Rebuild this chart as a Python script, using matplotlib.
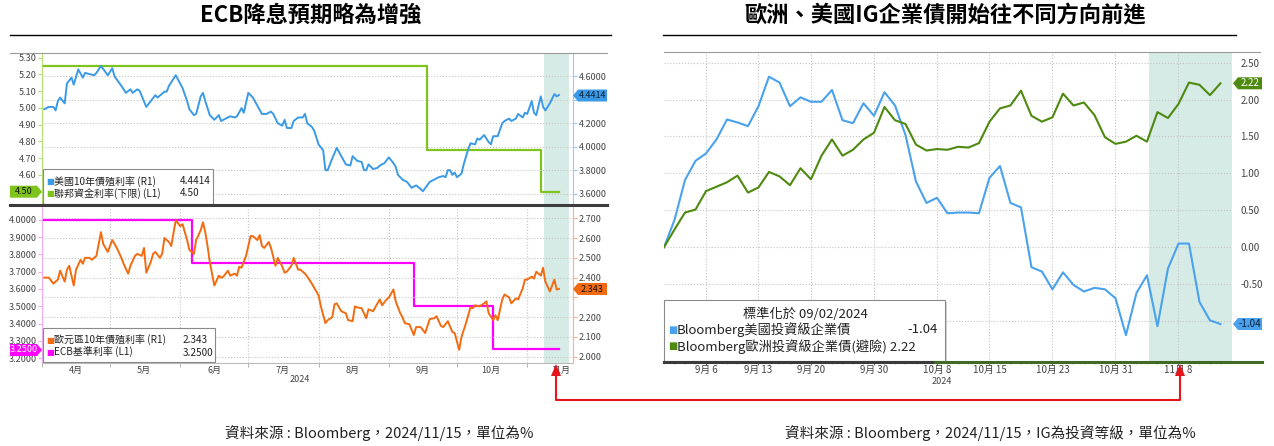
import numpy as np
import pandas as pd
import matplotlib
matplotlib.use('Agg')
import matplotlib.pyplot as plt
import matplotlib.ticker as mticker
from matplotlib.lines import Line2D
from matplotlib.patches import Rectangle, Polygon

plt.rcParams['font.family'] = ['Noto Sans CJK TC', 'DejaVu Sans']

# ---------------- left chart (days counted from 2024-04-02) ----------------
start_left = pd.Timestamp('2024-04-02')

us10y_day = [0, 2, 4, 5, 6, 7, 9, 10, 12, 13,
             15, 17, 18, 22, 23, 25, 28, 30, 31, 34,
             36, 38, 39, 41, 42, 45, 47, 49, 50, 53,
             54, 55, 58,
             61, 63, 64, 66, 67, 69, 70, 71, 73, 75,
             77, 78, 80, 82, 84, 85, 87, 88, 90, 92,
             94, 96, 98, 100, 101, 103, 105, 106, 107, 109,
             110, 112, 114, 115, 116, 118, 119,
             121, 123, 124, 125, 127, 129, 131, 133, 135, 136,
             138, 140, 141, 142, 143, 145, 147, 148, 150, 152,
             154, 155, 156, 158, 160, 162, 164, 166, 167, 170,
             172, 174, 176, 177, 178, 179, 180, 181, 182, 184,
             185, 187, 188, 190, 191, 192, 194, 195, 196, 197,
             198, 200, 202, 203, 205, 206, 208, 209, 211, 212,
             213, 215, 216, 217, 219, 220, 221, 223, 225, 226, 227]
us10y = [4.32, 4.34, 4.34, 4.31, 4.39, 4.42, 4.37, 4.54, 4.59, 4.53,
         4.66, 4.59, 4.63, 4.61, 4.63, 4.69, 4.61, 4.67, 4.60, 4.52,
         4.46, 4.49, 4.46, 4.49, 4.48, 4.34, 4.39, 4.44, 4.42, 4.47,
         4.47, 4.52, 4.61,
         4.50, 4.39, 4.32, 4.27, 4.28, 4.43, 4.46, 4.39, 4.27, 4.23,
         4.27, 4.22, 4.24, 4.26, 4.25, 4.26, 4.33, 4.29, 4.46, 4.42,
         4.35, 4.28, 4.28, 4.30, 4.28, 4.20, 4.18, 4.23, 4.16, 4.16,
         4.22, 4.25, 4.25, 4.28, 4.20, 4.17, 4.14,
         4.02, 3.97, 3.80, 3.80, 3.90, 3.99, 3.92, 3.85, 3.84, 3.92,
         3.88, 3.87, 3.80, 3.80, 3.85, 3.81, 3.82, 3.84, 3.86, 3.91,
         3.86, 3.83, 3.76, 3.72, 3.70, 3.65, 3.67, 3.64, 3.62, 3.70,
         3.72, 3.74, 3.75, 3.74, 3.80, 3.80, 3.76, 3.78, 3.74, 3.77,
         3.85, 3.98, 4.03, 4.02, 4.07, 4.06, 4.10, 4.07, 4.04, 4.02,
         4.09, 4.09, 4.20, 4.22, 4.24, 4.22, 4.24, 4.28, 4.25, 4.29,
         4.28, 4.39, 4.29, 4.27, 4.43, 4.34, 4.31, 4.37, 4.45, 4.43, 4.4414]

fed_day = [0, 169, 219, 227]
fed_rate = [5.25, 4.75, 4.50, 4.50]

eur_day = [0, 2, 4, 6, 7, 9, 10, 11, 13, 14,
           16, 17, 18, 20, 21, 23, 25, 26, 28, 30,
           32, 34, 35, 37, 38, 40, 41, 43, 44, 45,
           47, 48, 49, 51, 52, 53, 55, 56, 58, 60,
           61, 63, 64, 66, 67, 69, 70, 71, 72, 73,
           75, 77, 78, 79, 81, 82, 84, 85, 86, 87,
           89, 91, 92, 94, 95, 96, 97, 99, 100, 102,
           103, 105, 106, 107, 109, 110, 112, 113, 115, 116,
           118, 119, 121, 122, 124, 125, 127, 128, 129, 131,
           133, 134, 136, 137, 138, 140, 142, 143, 145, 146,
           148, 149, 151, 152, 154, 155, 157, 158, 159, 161,
           163, 164, 166, 168, 170, 172, 173, 175, 176, 178,
           180, 181, 183, 184, 186, 188, 189, 190, 192, 194,
           195, 196, 198, 199, 200, 202, 203, 205, 206, 208,
           209, 211, 212, 213, 215, 216, 217, 219, 220, 221,
           223, 224, 225, 226, 227]
eur10y = [2.40, 2.40, 2.37, 2.39, 2.435, 2.38, 2.44, 2.46, 2.36, 2.44,
          2.49, 2.47, 2.50, 2.50, 2.49, 2.51, 2.63, 2.57, 2.53, 2.59,
          2.55, 2.50, 2.47, 2.42, 2.46, 2.51, 2.52, 2.51, 2.55, 2.425,
          2.48, 2.52, 2.53, 2.50, 2.52, 2.60, 2.58, 2.56, 2.69, 2.66,
          2.67, 2.59, 2.54, 2.52, 2.59, 2.64, 2.68, 2.63, 2.56, 2.48,
          2.36, 2.41, 2.40, 2.405, 2.435, 2.41, 2.42, 2.41, 2.455, 2.45,
          2.51, 2.61, 2.61, 2.59, 2.615, 2.56, 2.55, 2.58, 2.55, 2.46,
          2.50, 2.455, 2.425, 2.43, 2.46, 2.50, 2.44, 2.44, 2.42, 2.405,
          2.37, 2.35, 2.31, 2.255, 2.17, 2.185, 2.20, 2.265, 2.27, 2.23,
          2.22, 2.185, 2.18, 2.255, 2.25, 2.245, 2.195, 2.24, 2.23, 2.25,
          2.29, 2.26, 2.29, 2.30, 2.34, 2.28, 2.22, 2.20, 2.17, 2.165,
          2.11, 2.15, 2.15, 2.12, 2.19, 2.195, 2.205, 2.155, 2.15, 2.18,
          2.125, 2.12, 2.035, 2.10, 2.17, 2.25, 2.245, 2.26, 2.255, 2.27,
          2.28, 2.22, 2.185, 2.21, 2.185, 2.29, 2.315, 2.30, 2.27, 2.295,
          2.29, 2.345, 2.39, 2.39, 2.405, 2.395, 2.43, 2.41, 2.45, 2.38,
          2.33, 2.36, 2.39, 2.34, 2.343]

ecb_day = [0, 65, 163, 198, 227]
ecb_rate = [4.00, 3.75, 3.50, 3.25, 3.25]

# ---------------- right chart (business days from 2024-09-02, normalised) ----------------
bdays = pd.bdate_range('2024-09-02', '2024-11-14')
us_ig = [0.00, 0.37, 0.91, 1.17, 1.27, 1.46, 1.73, 1.69, 1.64, 1.91,
         2.31, 2.23, 1.91, 2.03, 1.97, 1.97, 2.13, 1.72, 1.68, 1.95,
         1.78, 2.10, 1.92, 1.52, 0.89, 0.60, 0.67, 0.46, 0.47, 0.47,
         0.46, 0.94, 1.10, 0.60, 0.54, -0.27, -0.33, -0.57, -0.34, -0.51,
         -0.60, -0.55, -0.57, -0.69, -1.19, -0.62, -0.38, -1.07, -0.29, 0.05,
         0.05, -0.74, -0.99, -1.04]
eu_ig = [0.00, 0.24, 0.47, 0.51, 0.76, 0.82, 0.88, 0.97, 0.74, 0.81,
         1.02, 0.96, 0.84, 1.07, 0.92, 1.24, 1.46, 1.24, 1.32, 1.46,
         1.55, 1.90, 1.72, 1.67, 1.39, 1.31, 1.33, 1.32, 1.36, 1.35,
         1.41, 1.70, 1.88, 1.92, 2.12, 1.78, 1.70, 1.76, 2.08, 1.92,
         1.96, 1.79, 1.49, 1.40, 1.43, 1.51, 1.43, 1.83, 1.75, 1.94,
         2.23, 2.20, 2.06, 2.22]
right_ticks = ['2024-09-06', '2024-09-13', '2024-09-20', '2024-09-30', '2024-10-08',
               '2024-10-15', '2024-10-23', '2024-10-31', '2024-11-08']

assert len(us10y_day) == len(us10y)
assert len(eur_day) == len(eur10y)
assert len(bdays) == len(us_ig) == len(eu_ig)

BLUE = '#3b9ae6'
GREEN = '#7fc41c'
ORANGE = '#f26b10'
MAGENTA = '#ff00ff'
R_BLUE = '#4aa2ee'
R_GREEN = '#4f8a10'
SHADE = '#d6ebe5'
GRID = '#c4c4c4'
LBL = '#444444'

W, H = 1274, 446
fig = plt.figure(figsize=(W / 100, H / 100), dpi=100)


def rect(x0, y0, x1, y1):
    return [x0 / W, 1 - y1 / H, (x1 - x0) / W, (y1 - y0) / H]


def fx(x):
    return x / W


def fy(y):
    return 1 - y / H


def fline(xs, ys, **kw):
    fig.add_artist(Line2D([fx(_) for _ in xs], [fy(_) for _ in ys], **kw))


def tag(x0, x1, yc, txt, fc, tc, point='left', size=6.5):
    # value flag sitting on an axis
    h, n = 12, 5
    if point == 'left':
        pts = [(x0, yc), (x0 + n, yc - h / 2), (x1, yc - h / 2), (x1, yc + h / 2), (x0 + n, yc + h / 2)]
        xc = (x0 + n + x1) / 2
    else:
        pts = [(x1, yc), (x1 - n, yc - h / 2), (x0, yc - h / 2), (x0, yc + h / 2), (x1 - n, yc + h / 2)]
        xc = (x0 + x1 - n) / 2
    fig.add_artist(Polygon([(fx(a), fy(b)) for a, b in pts], closed=True, fc=fc, ec='none'))
    fig.text(fx(xc), fy(yc), txt, ha='center', va='center', fontsize=size, color=tc, zorder=5)


def box(x0, y0, x1, y1, shadow=False):
    if shadow:
        fig.add_artist(Rectangle((fx(x0 + 2), fy(y1 + 2)), (x1 - x0) / W, (y1 - y0) / H,
                                 fc='#d0d0d0', ec='none'))
    fig.add_artist(Rectangle((fx(x0), fy(y1)), (x1 - x0) / W, (y1 - y0) / H,
                             fc='white', ec='#8a8a8a', lw=0.8))


def dates(days):
    return start_left + pd.to_timedelta(days, unit='D')


def labels(ticks, fmt, hide=()):
    # tick labels, blank where a value flag sits on top
    return ['' if any(abs(t - h) < 1e-6 for h in hide) else fmt % t for t in ticks]


months = pd.date_range('2024-04-01', '2024-11-01', freq='MS')
month_mid = months + pd.Timedelta(days=15)
xlim_left = (start_left - pd.Timedelta(hours=4), start_left + pd.Timedelta(days=233.2))
shade_left = (start_left + pd.Timedelta(days=220.5), start_left + pd.Timedelta(days=231.4))


def style_left(ax, twin, lcol, rcol):
    ax.set_xlim(*xlim_left)
    ax.axvspan(*shade_left, color=SHADE, lw=0, zorder=0)
    ax.set_xticks(months, minor=True)
    ax.grid(which='minor', axis='x', ls=':', color=GRID, lw=0.8)
    twin.grid(which='major', axis='y', ls=':', color=GRID, lw=0.8)
    for a in (ax, twin):
        a.spines['top'].set_visible(False)
        a.spines['bottom'].set_visible(False)
    ax.spines['left'].set_color(lcol)
    ax.spines['right'].set_visible(False)
    twin.spines['left'].set_visible(False)
    twin.spines['right'].set_color(rcol)
    ax.tick_params(axis='y', color=lcol, labelcolor=LBL, labelsize=6.5, length=3, pad=1)
    twin.tick_params(axis='y', color=rcol, labelcolor=LBL, labelsize=6.5, length=3, pad=1)


# ---- left top: Fed funds vs US 10y ----
ax_t = fig.add_axes(rect(42, 53, 573, 205))
ax_t2 = ax_t.twinx()
ax_t.step(dates(fed_day), fed_rate, where='post', color=GREEN, lw=1.6, zorder=3)
ax_t2.plot(dates(us10y_day), us10y, color=BLUE, lw=1.4)
ax_t.set_ylim(4.42, 5.328)
ax_t2.set_ylim(3.503, 4.80)
t_ticks = np.round(np.arange(4.5, 5.31, 0.1), 2)
ax_t.set_yticks(t_ticks, labels(t_ticks, '%.2f', hide=[4.5]))
t2_ticks = np.round(np.arange(3.6, 4.61, 0.2), 2)
ax_t2.set_yticks(t2_ticks, labels(t2_ticks, '%.4f', hide=[4.4]))
style_left(ax_t, ax_t2, '#b3df74', '#9ccaf0')
ax_t.tick_params(axis='x', which='both', bottom=False, labelbottom=False)

# ---- left bottom: ECB rate vs euro 10y ----
ax_b = fig.add_axes(rect(42, 207, 573, 362.7))
ax_b2 = ax_b.twinx()
ax_b.step(dates(ecb_day), ecb_rate, where='post', color=MAGENTA, lw=1.6, zorder=3)
ax_b2.plot(dates(eur_day), eur10y, color=ORANGE, lw=1.4)
ax_b.set_ylim(3.173, 4.075)
ax_b2.set_ylim(1.970, 2.757)
b_ticks = np.round(np.arange(3.2, 4.01, 0.1), 2)
ax_b.set_yticks(b_ticks, labels(b_ticks, '%.4f'))
b2_ticks = np.round(np.arange(2.0, 2.71, 0.1), 2)
ax_b2.set_yticks(b2_ticks, labels(b2_ticks, '%.3f', hide=[2.3]))
style_left(ax_b, ax_b2, '#f2a8f2', '#f5b48c')
ax_b.spines['bottom'].set_visible(True)
ax_b.spines['bottom'].set_color('#bbbbbb')
ax_b.set_xticks(month_mid)
ax_b.set_xticklabels([f'{m.month}月' for m in months])
ax_b.tick_params(axis='x', which='major', length=0, labelsize=6.5, labelcolor=LBL, pad=2)
ax_b.tick_params(axis='x', which='minor', length=3, color='#aaaaaa')
fig.text(fx(300), fy(379), '2024', ha='center', va='center', fontsize=6.5, color=LBL)

# frame lines of the left chart
fline([10, 607], [53, 53], color='#9a9a9a', lw=0.8)
fline([10, 607], [205.5, 205.5], color='#3c3c3c', lw=2.2)

# legends
box(43, 169, 213, 204)
fs = 7.2
for y, col, name, val in [(181.5, BLUE, '美國10年債殖利率 (R1)', '4.4414'),
                          (193.5, GREEN, '聯邦資金利率(下限) (L1)', '4.50')]:
    fig.text(fx(46), fy(y), '■', color=col, fontsize=6, va='center', family='DejaVu Sans')
    fig.text(fx(54), fy(y), name, color='#222222', fontsize=fs, va='center')
    fig.text(fx(180), fy(y), val, color='#222222', fontsize=fs, va='center')
box(43, 328, 215, 362)
for y, col, name, val in [(340, ORANGE, '歐元區10年債殖利率 (R1)', '2.343'),
                          (352.5, MAGENTA, 'ECB基準利率 (L1)', '3.2500')]:
    fig.text(fx(46), fy(y), '■', color=col, fontsize=6, va='center', family='DejaVu Sans')
    fig.text(fx(54), fy(y), name, color='#222222', fontsize=fs, va='center')
    fig.text(fx(183), fy(y), val, color='#222222', fontsize=fs, va='center')

# axis value flags
tag(10, 42, 191.7, '4.50', GREEN, '#111111', point='right')
tag(573, 607, 95.5, '4.4414', BLUE, '#0b1f3a', point='left')
tag(10, 42, 350, '3.2500', MAGENTA, 'white', point='right')
tag(573, 607, 289, '2.343', ORANGE, '#111111', point='left')

# ---- right chart ----
ax_r = fig.add_axes(rect(664, 52.3, 1232, 361.7))
xi = np.arange(len(bdays))
ax_r.axvspan(46.2, 54.1, color=SHADE, lw=0, zorder=0)
ax_r.plot(xi, us_ig, color=R_BLUE, lw=1.5)
ax_r.plot(xi, eu_ig, color=R_GREEN, lw=1.5)
ax_r.set_xlim(0, 54.1)
ax_r.set_ylim(-1.55, 2.64)
ax_r.yaxis.tick_right()
r_ticks = np.round(np.arange(-1.0, 2.51, 0.5), 2)
ax_r.set_yticks(r_ticks, labels(r_ticks, '%.2f', hide=[-1.0]))
ax_r.tick_params(axis='y', length=0, labelsize=7, labelcolor=LBL, pad=6)
tick_pos = bdays.get_indexer(pd.to_datetime(right_ticks))
ax_r.set_xticks(tick_pos)
ax_r.set_xticklabels([f'{d.month}月 {d.day}' for d in pd.to_datetime(right_ticks)])
ax_r.set_xticks(xi, minor=True)
ax_r.tick_params(axis='x', which='major', length=2, color='#777777', labelsize=7, labelcolor=LBL, pad=0.5)
ax_r.tick_params(axis='x', which='minor', length=1.5, color='#aaaaaa')
ax_r.grid(axis='both', which='major', ls=':', color=GRID, lw=0.8)
for s in ax_r.spines.values():
    s.set_visible(False)
fig.text(fx(942), fy(381), '2024', ha='center', va='center', fontsize=6.5, color=LBL)

fline([664, 1260], [52.3, 52.3], color='#9a9a9a', lw=0.8)
fline([664, 935], [362, 362], color='#3a3a3a', lw=2.2)
fline([935, 1262], [362, 362], color='#3f6b26', lw=2.2)

box(664, 300, 945, 361, shadow=True)
fig.text(fx(805), fy(314), '標準化於 09/02/2024', ha='center', va='center', fontsize=9.5, color='#222222')
fig.text(fx(668), fy(329.5), '■', color=R_BLUE, fontsize=7, va='center', family='DejaVu Sans')
fig.text(fx(677), fy(329.5), 'Bloomberg美國投資級企業債', fontsize=9.5, va='center', color='#222222')
fig.text(fx(938), fy(329.5), '-1.04', fontsize=9.5, va='center', ha='right', color='#222222')
fig.text(fx(668), fy(346.5), '■', color=R_GREEN, fontsize=7, va='center', family='DejaVu Sans')
fig.text(fx(677), fy(346.5), 'Bloomberg歐洲投資級企業債(避險) 2.22', fontsize=9.5, va='center', color='#222222')

tag(1233, 1262, 83.3, '2.22', R_GREEN, 'white', point='left', size=7)
tag(1233, 1262, 324, '-1.04', R_BLUE, '#0b1f3a', point='left', size=7)

# ---- titles, arrow, sources ----
fig.text(fx(311), fy(15), 'ECB降息預期略為增強', ha='center', va='center', fontsize=16, fontweight='bold')
fig.text(fx(945), fy(15), '歐洲、美國IG企業債開始往不同方向前進', ha='center', va='center',
         fontsize=16, fontweight='bold')
fline([10, 611], [34.5, 34.5], color='black', lw=1)
fline([663, 1236], [34.5, 34.5], color='black', lw=1)

RED = '#e8141c'
fline([556, 556, 1180, 1180], [374, 400, 400, 374], color=RED, lw=1.5)
for ax_x in (556, 1180):
    fig.add_artist(Polygon([(fx(ax_x), fy(364)), (fx(ax_x - 5), fy(376)), (fx(ax_x + 5), fy(376))],
                           closed=True, fc=RED, ec='none'))

fig.text(fx(225), fy(433), '資料來源 : Bloomberg，2024/11/15，單位為%', va='center', fontsize=10.5, color='#222222')
fig.text(fx(785), fy(433), '資料來源 : Bloomberg，2024/11/15，IG為投資等級，單位為%', va='center',
         fontsize=10.5, color='#222222')

fig.savefig('out.png', dpi=100)
